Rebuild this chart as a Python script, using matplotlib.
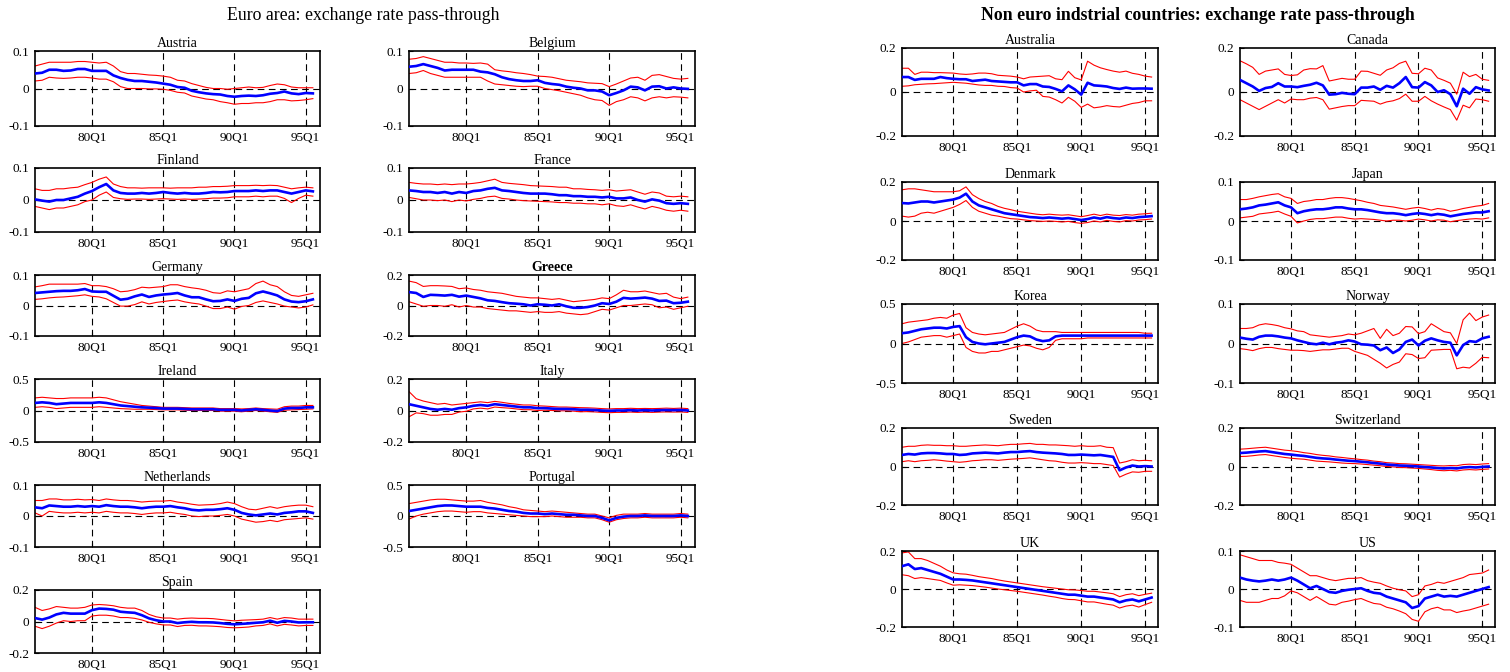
import numpy as np
import matplotlib
matplotlib.use("Agg")
import matplotlib.pyplot as plt

plt.rcParams["font.family"] = ["Liberation Serif", "DejaVu Serif"]
plt.rcParams["axes.unicode_minus"] = False

# half-yearly observations, 1976Q1 .. 1995Q3
years = 1976 + np.arange(40) / 2
tick_years = [1980, 1985, 1990, 1995]
tick_names = ["80Q1", "85Q1", "90Q1", "95Q1"]

# ---- euro area ----
austria_mid = [0.040, 0.042, 0.050, 0.050, 0.047, 0.048, 0.052, 0.052, 0.047, 0.047,
               0.047, 0.035, 0.028, 0.023, 0.020, 0.020, 0.018, 0.016, 0.013, 0.010,
               0.004, 0.002, -0.006, -0.010, -0.013, -0.015, -0.016, -0.020, -0.022, -0.020,
               -0.019, -0.020, -0.018, -0.014, -0.012, -0.008, -0.013, -0.015, -0.012, -0.013]
austria_up = [0.060, 0.065, 0.070, 0.070, 0.070, 0.070, 0.072, 0.072, 0.070, 0.068,
              0.070, 0.060, 0.045, 0.040, 0.040, 0.038, 0.036, 0.035, 0.033, 0.030,
              0.022, 0.020, 0.013, 0.008, 0.003, 0.000, 0.000, -0.002, 0.000, 0.002,
              0.004, 0.002, 0.003, 0.008, 0.012, 0.010, 0.004, 0.002, 0.002, 0.002]
austria_lo = [0.020, 0.022, 0.030, 0.028, 0.027, 0.028, 0.030, 0.030, 0.028, 0.025,
              0.025, 0.018, 0.005, 0.000, 0.000, 0.000, -0.001, -0.001, -0.002, -0.005,
              -0.010, -0.012, -0.020, -0.024, -0.028, -0.030, -0.035, -0.038, -0.042, -0.040,
              -0.040, -0.038, -0.038, -0.035, -0.030, -0.030, -0.033, -0.032, -0.030, -0.027]

belgium_mid = [0.058, 0.060, 0.065, 0.060, 0.055, 0.048, 0.050, 0.050, 0.050, 0.050,
               0.045, 0.043, 0.038, 0.030, 0.025, 0.022, 0.020, 0.020, 0.022, 0.015,
               0.012, 0.010, 0.005, 0.002, 0.000, -0.005, -0.005, -0.008, -0.018, -0.012,
               -0.005, 0.005, 0.003, -0.005, 0.005, 0.006, 0.000, 0.003, 0.000, -0.001]
belgium_up = [0.078, 0.080, 0.085, 0.080, 0.075, 0.070, 0.070, 0.068, 0.068, 0.067,
              0.068, 0.065, 0.050, 0.047, 0.045, 0.042, 0.040, 0.037, 0.033, 0.032,
              0.030, 0.026, 0.022, 0.020, 0.018, 0.015, 0.014, 0.013, 0.005, 0.012,
              0.020, 0.028, 0.030, 0.022, 0.035, 0.037, 0.032, 0.027, 0.025, 0.027]
belgium_lo = [0.040, 0.042, 0.048, 0.040, 0.035, 0.030, 0.030, 0.030, 0.030, 0.030,
              0.030, 0.020, 0.012, 0.010, 0.008, 0.006, 0.005, 0.006, 0.006, 0.000,
              -0.003, -0.006, -0.010, -0.014, -0.018, -0.025, -0.030, -0.032, -0.045, -0.035,
              -0.030, -0.022, -0.025, -0.033, -0.025, -0.022, -0.025, -0.022, -0.023, -0.025]

finland_mid = [0.002, -0.002, -0.005, 0.000, 0.000, 0.005, 0.010, 0.020, 0.028, 0.040,
               0.050, 0.030, 0.022, 0.020, 0.020, 0.022, 0.020, 0.022, 0.025, 0.022,
               0.020, 0.022, 0.020, 0.020, 0.022, 0.025, 0.024, 0.025, 0.028, 0.028,
               0.028, 0.030, 0.028, 0.030, 0.030, 0.025, 0.020, 0.025, 0.030, 0.027]
finland_up = [0.035, 0.030, 0.030, 0.035, 0.035, 0.038, 0.040, 0.048, 0.055, 0.065,
              0.072, 0.050, 0.042, 0.038, 0.038, 0.037, 0.038, 0.038, 0.038, 0.037,
              0.038, 0.038, 0.038, 0.040, 0.040, 0.042, 0.042, 0.043, 0.045, 0.045,
              0.045, 0.046, 0.045, 0.046, 0.045, 0.040, 0.035, 0.038, 0.040, 0.038]
finland_lo = [-0.020, -0.025, -0.030, -0.025, -0.025, -0.020, -0.015, -0.005, 0.000, 0.015,
              0.025, 0.008, 0.004, 0.002, 0.003, 0.003, 0.002, 0.003, 0.004, 0.003,
              0.002, 0.003, 0.002, 0.003, 0.004, 0.006, 0.006, 0.007, 0.010, 0.010,
              0.010, 0.012, 0.010, 0.012, 0.012, 0.005, -0.008, 0.005, 0.015, 0.012]

france_mid = [0.030, 0.028, 0.025, 0.025, 0.022, 0.025, 0.020, 0.025, 0.022, 0.028,
              0.030, 0.035, 0.038, 0.030, 0.028, 0.025, 0.022, 0.020, 0.020, 0.020,
              0.018, 0.015, 0.015, 0.012, 0.012, 0.010, 0.010, 0.008, 0.010, 0.005,
              0.005, 0.008, 0.000, -0.005, 0.002, -0.002, -0.010, -0.012, -0.010, -0.012]
france_up = [0.055, 0.052, 0.050, 0.050, 0.048, 0.050, 0.048, 0.050, 0.050, 0.052,
             0.055, 0.060, 0.065, 0.055, 0.052, 0.050, 0.048, 0.045, 0.044, 0.043,
             0.042, 0.040, 0.040, 0.035, 0.035, 0.033, 0.032, 0.030, 0.032, 0.028,
             0.030, 0.032, 0.025, 0.018, 0.025, 0.022, 0.012, 0.010, 0.012, 0.010]
france_lo = [0.008, 0.004, 0.000, 0.000, -0.002, 0.000, -0.005, 0.000, -0.003, 0.002,
             0.005, 0.010, 0.012, 0.005, 0.003, 0.000, -0.002, -0.003, -0.004, -0.005,
             -0.006, -0.008, -0.008, -0.010, -0.010, -0.012, -0.012, -0.015, -0.012, -0.018,
             -0.020, -0.015, -0.022, -0.028, -0.020, -0.025, -0.032, -0.035, -0.032, -0.035]

germany_mid = [0.041, 0.043, 0.045, 0.047, 0.048, 0.048, 0.050, 0.054, 0.046, 0.045,
               0.045, 0.032, 0.019, 0.022, 0.030, 0.036, 0.028, 0.033, 0.036, 0.038,
               0.041, 0.033, 0.027, 0.027, 0.020, 0.014, 0.015, 0.020, 0.015, 0.022,
               0.025, 0.040, 0.046, 0.040, 0.033, 0.020, 0.013, 0.011, 0.014, 0.020]
germany_up = [0.061, 0.065, 0.070, 0.070, 0.070, 0.070, 0.070, 0.072, 0.065, 0.065,
              0.062, 0.055, 0.045, 0.047, 0.052, 0.060, 0.058, 0.060, 0.062, 0.068,
              0.068, 0.062, 0.058, 0.055, 0.050, 0.042, 0.040, 0.048, 0.045, 0.050,
              0.055, 0.072, 0.080, 0.068, 0.062, 0.045, 0.033, 0.030, 0.035, 0.040]
germany_lo = [0.020, 0.022, 0.025, 0.027, 0.028, 0.030, 0.032, 0.035, 0.030, 0.028,
              0.022, 0.010, -0.002, -0.002, 0.003, 0.012, 0.005, 0.010, 0.013, 0.016,
              0.018, 0.012, 0.008, 0.005, -0.002, -0.010, -0.010, -0.005, -0.012, -0.003,
              0.000, 0.010, 0.015, 0.010, 0.005, -0.002, -0.005, -0.008, -0.005, 0.002]

greece_mid = [0.088, 0.082, 0.056, 0.070, 0.068, 0.065, 0.070, 0.058, 0.065, 0.056,
              0.047, 0.034, 0.030, 0.022, 0.015, 0.012, 0.008, 0.000, 0.008, 0.005,
              0.000, 0.008, -0.005, -0.015, -0.015, -0.010, 0.000, 0.015, 0.010, 0.025,
              0.050, 0.045, 0.048, 0.052, 0.045, 0.030, 0.032, 0.015, 0.018, 0.025]
greece_up = [0.160, 0.150, 0.125, 0.130, 0.130, 0.128, 0.125, 0.110, 0.115, 0.105,
             0.100, 0.090, 0.085, 0.080, 0.070, 0.060, 0.055, 0.050, 0.050, 0.045,
             0.040, 0.045, 0.035, 0.025, 0.030, 0.035, 0.040, 0.050, 0.045, 0.070,
             0.100, 0.090, 0.090, 0.095, 0.085, 0.075, 0.080, 0.055, 0.045, 0.055]
greece_lo = [0.025, 0.010, -0.005, 0.000, 0.000, -0.005, 0.005, -0.010, 0.000, -0.010,
             -0.010, -0.020, -0.025, -0.030, -0.035, -0.035, -0.040, -0.045, -0.040, -0.045,
             -0.045, -0.040, -0.050, -0.055, -0.060, -0.055, -0.040, -0.025, -0.030, -0.015,
             0.000, 0.000, 0.005, 0.010, 0.005, -0.015, -0.010, -0.025, -0.015, -0.005]

ireland_mid = [0.12, 0.13, 0.12, 0.10, 0.11, 0.12, 0.12, 0.12, 0.12, 0.13,
               0.12, 0.10, 0.08, 0.07, 0.06, 0.05, 0.045, 0.04, 0.03, 0.03,
               0.03, 0.025, 0.02, 0.02, 0.02, 0.02, 0.01, 0.01, 0.01, 0.0,
               0.01, 0.02, 0.01, 0.0, -0.01, 0.03, 0.04, 0.04, 0.05, 0.05]
ireland_up = [0.20, 0.21, 0.20, 0.19, 0.19, 0.20, 0.20, 0.20, 0.20, 0.21,
              0.20, 0.17, 0.14, 0.12, 0.10, 0.08, 0.07, 0.06, 0.05, 0.05,
              0.05, 0.045, 0.04, 0.04, 0.04, 0.04, 0.03, 0.03, 0.03, 0.025,
              0.03, 0.04, 0.03, 0.025, 0.02, 0.06, 0.07, 0.07, 0.08, 0.08]
ireland_lo = [0.05, 0.06, 0.05, 0.03, 0.04, 0.05, 0.05, 0.05, 0.05, 0.06,
              0.05, 0.04, 0.03, 0.025, 0.02, 0.02, 0.02, 0.015, 0.01, 0.01,
              0.01, 0.005, 0.0, 0.0, 0.0, 0.0, -0.01, -0.01, -0.01, -0.02,
              -0.01, 0.0, -0.01, -0.02, -0.03, 0.005, 0.01, 0.015, 0.02, 0.025]

italy_mid = [0.040, 0.030, 0.020, 0.010, 0.005, 0.010, 0.005, 0.015, 0.020, 0.030,
             0.035, 0.030, 0.040, 0.035, 0.030, 0.025, 0.020, 0.020, 0.015, 0.015,
             0.012, 0.010, 0.010, 0.008, 0.005, 0.005, 0.003, 0.000, -0.002, 0.000,
             0.000, 0.002, 0.000, 0.002, 0.000, 0.002, 0.003, 0.002, 0.003, 0.000]
italy_up = [0.120, 0.075, 0.060, 0.050, 0.040, 0.045, 0.035, 0.040, 0.045, 0.050,
            0.055, 0.050, 0.058, 0.052, 0.045, 0.040, 0.035, 0.035, 0.030, 0.028,
            0.025, 0.022, 0.022, 0.020, 0.018, 0.017, 0.015, 0.012, 0.010, 0.012,
            0.012, 0.014, 0.012, 0.013, 0.012, 0.013, 0.015, 0.013, 0.015, 0.012]
italy_lo = [-0.040, -0.015, -0.020, -0.030, -0.030, -0.025, -0.025, -0.010, -0.005, 0.010,
            0.015, 0.010, 0.022, 0.018, 0.015, 0.010, 0.005, 0.005, 0.000, 0.002,
            0.000, -0.002, -0.002, -0.004, -0.008, -0.007, -0.009, -0.012, -0.014, -0.012,
            -0.012, -0.010, -0.012, -0.010, -0.012, -0.010, -0.009, -0.010, -0.009, -0.012]

netherlands_mid = [0.028, 0.025, 0.034, 0.032, 0.030, 0.030, 0.032, 0.030, 0.032, 0.030,
                   0.035, 0.032, 0.030, 0.030, 0.028, 0.025, 0.028, 0.030, 0.030, 0.032,
                   0.028, 0.025, 0.020, 0.018, 0.020, 0.020, 0.022, 0.025, 0.020, 0.010,
                   0.005, 0.002, 0.005, 0.008, 0.005, 0.010, 0.012, 0.015, 0.015, 0.010]
netherlands_up = [0.050, 0.050, 0.055, 0.055, 0.052, 0.052, 0.054, 0.052, 0.053, 0.050,
                  0.055, 0.052, 0.050, 0.050, 0.048, 0.045, 0.047, 0.048, 0.048, 0.050,
                  0.045, 0.042, 0.038, 0.035, 0.036, 0.037, 0.040, 0.045, 0.040, 0.030,
                  0.022, 0.020, 0.025, 0.030, 0.025, 0.030, 0.033, 0.035, 0.035, 0.030]
netherlands_lo = [0.010, 0.000, 0.015, 0.012, 0.010, 0.010, 0.012, 0.010, 0.012, 0.010,
                  0.015, 0.012, 0.010, 0.010, 0.008, 0.005, 0.008, 0.010, 0.010, 0.012,
                  0.008, 0.005, 0.000, -0.002, 0.000, 0.000, 0.002, 0.005, 0.000, -0.010,
                  -0.015, -0.020, -0.018, -0.014, -0.018, -0.012, -0.010, -0.008, -0.006, -0.010]

portugal_mid = [0.08, 0.10, 0.12, 0.14, 0.16, 0.17, 0.17, 0.16, 0.15, 0.15,
                0.15, 0.13, 0.12, 0.10, 0.08, 0.07, 0.05, 0.04, 0.04, 0.03,
                0.04, 0.03, 0.02, 0.02, 0.01, 0.0, 0.0, -0.03, -0.07, -0.03,
                -0.01, 0.0, 0.0, 0.01, 0.0, 0.0, 0.0, 0.0, 0.01, 0.0]
portugal_up = [0.20, 0.22, 0.24, 0.26, 0.27, 0.27, 0.26, 0.25, 0.24, 0.24,
               0.25, 0.22, 0.20, 0.18, 0.15, 0.13, 0.10, 0.09, 0.08, 0.07,
               0.08, 0.07, 0.06, 0.05, 0.04, 0.03, 0.03, 0.0, -0.03, 0.01,
               0.03, 0.03, 0.03, 0.04, 0.03, 0.03, 0.03, 0.03, 0.04, 0.03]
portugal_lo = [-0.05, 0.0, 0.03, 0.05, 0.07, 0.08, 0.08, 0.07, 0.06, 0.07,
               0.07, 0.05, 0.04, 0.03, 0.02, 0.01, 0.0, -0.01, -0.01, -0.01,
               0.0, -0.01, -0.02, -0.02, -0.02, -0.03, -0.03, -0.06, -0.10, -0.06,
               -0.04, -0.03, -0.03, -0.02, -0.03, -0.03, -0.03, -0.03, -0.02, -0.03]

spain_mid = [0.022, 0.012, 0.025, 0.045, 0.055, 0.050, 0.050, 0.050, 0.072, 0.082,
             0.080, 0.075, 0.062, 0.058, 0.055, 0.040, 0.020, 0.008, 0.000, 0.000,
             -0.010, -0.005, -0.002, -0.005, -0.005, -0.006, -0.010, -0.015, -0.018, -0.015,
             -0.012, -0.008, -0.005, 0.005, -0.008, 0.004, 0.000, -0.006, -0.005, -0.005]
spain_up = [0.090, 0.070, 0.080, 0.095, 0.090, 0.085, 0.085, 0.090, 0.105, 0.108,
            0.105, 0.100, 0.090, 0.085, 0.085, 0.070, 0.045, 0.030, 0.022, 0.022,
            0.015, 0.020, 0.022, 0.020, 0.020, 0.018, 0.013, 0.008, 0.004, 0.008,
            0.010, 0.012, 0.015, 0.025, 0.015, 0.025, 0.022, 0.015, 0.015, 0.015]
spain_lo = [-0.030, -0.045, -0.030, -0.010, 0.005, 0.000, 0.005, 0.005, 0.035, 0.040,
            0.040, 0.035, 0.025, 0.025, 0.020, 0.010, -0.005, -0.015, -0.022, -0.022,
            -0.032, -0.025, -0.024, -0.028, -0.028, -0.030, -0.033, -0.038, -0.040, -0.038,
            -0.035, -0.028, -0.025, -0.015, -0.028, -0.018, -0.022, -0.028, -0.025, -0.025]

# ---- non euro industrial countries ----
australia_mid = [0.068, 0.068, 0.055, 0.060, 0.060, 0.060, 0.068, 0.063, 0.060, 0.058,
                 0.058, 0.050, 0.053, 0.056, 0.050, 0.048, 0.046, 0.044, 0.044, 0.030,
                 0.036, 0.036, 0.025, 0.023, 0.014, 0.003, 0.030, 0.012, -0.012, 0.042,
                 0.030, 0.028, 0.025, 0.018, 0.014, 0.020, 0.015, 0.016, 0.016, 0.015]
australia_up = [0.108, 0.108, 0.080, 0.090, 0.090, 0.088, 0.088, 0.087, 0.086, 0.082,
                0.080, 0.082, 0.086, 0.086, 0.083, 0.076, 0.074, 0.072, 0.068, 0.060,
                0.068, 0.070, 0.072, 0.074, 0.060, 0.056, 0.094, 0.065, 0.055, 0.140,
                0.122, 0.110, 0.102, 0.095, 0.090, 0.095, 0.085, 0.080, 0.072, 0.068]
australia_lo = [0.026, 0.028, 0.033, 0.035, 0.037, 0.038, 0.040, 0.042, 0.044, 0.042,
                0.040, 0.036, 0.032, 0.030, 0.030, 0.026, 0.025, 0.020, 0.018, 0.000,
                0.005, 0.008, -0.020, -0.023, -0.035, -0.050, -0.024, -0.042, -0.070, -0.055,
                -0.072, -0.068, -0.062, -0.066, -0.068, -0.060, -0.052, -0.048, -0.040, -0.040]

canada_mid = [0.055, 0.040, 0.025, 0.005, 0.018, 0.023, 0.040, 0.025, 0.025, 0.022,
              0.028, 0.033, 0.042, 0.030, -0.012, -0.010, -0.004, -0.008, -0.010, 0.020,
              0.020, 0.025, 0.010, 0.028, 0.020, 0.040, 0.068, 0.022, 0.020, 0.045,
              0.030, 0.000, 0.008, -0.010, -0.065, 0.015, -0.008, 0.022, 0.012, 0.007]
canada_up = [0.142, 0.128, 0.112, 0.080, 0.095, 0.100, 0.105, 0.080, 0.075, 0.078,
             0.100, 0.106, 0.105, 0.120, 0.050, 0.056, 0.062, 0.058, 0.058, 0.095,
             0.094, 0.085, 0.076, 0.100, 0.110, 0.130, 0.140, 0.085, 0.083, 0.108,
             0.100, 0.064, 0.053, 0.040, -0.010, 0.090, 0.070, 0.080, 0.058, 0.053]
canada_lo = [-0.035, -0.050, -0.065, -0.080, -0.065, -0.050, -0.035, -0.050, -0.032, -0.035,
             -0.035, -0.028, -0.025, -0.035, -0.078, -0.072, -0.066, -0.062, -0.062, -0.038,
             -0.040, -0.042, -0.055, -0.045, -0.040, -0.030, -0.010, -0.042, -0.042, -0.020,
             -0.040, -0.055, -0.068, -0.080, -0.128, -0.060, -0.072, -0.032, -0.035, -0.042]

denmark_mid = [0.092, 0.090, 0.095, 0.100, 0.100, 0.095, 0.100, 0.105, 0.110, 0.120,
               0.140, 0.100, 0.080, 0.070, 0.060, 0.050, 0.040, 0.035, 0.030, 0.025,
               0.020, 0.018, 0.015, 0.018, 0.015, 0.012, 0.015, 0.010, 0.005, 0.010,
               0.018, 0.012, 0.020, 0.015, 0.012, 0.018, 0.015, 0.020, 0.022, 0.025]
denmark_up = [0.160, 0.165, 0.165, 0.160, 0.155, 0.150, 0.150, 0.150, 0.150, 0.155,
              0.175, 0.135, 0.115, 0.100, 0.090, 0.075, 0.065, 0.058, 0.050, 0.045,
              0.040, 0.035, 0.032, 0.035, 0.032, 0.030, 0.032, 0.027, 0.022, 0.028,
              0.035, 0.028, 0.035, 0.030, 0.028, 0.033, 0.030, 0.035, 0.037, 0.040]
denmark_lo = [0.025, 0.020, 0.025, 0.040, 0.045, 0.040, 0.050, 0.060, 0.070, 0.085,
              0.105, 0.070, 0.050, 0.040, 0.030, 0.025, 0.018, 0.012, 0.010, 0.006,
              0.002, 0.000, -0.002, 0.000, -0.002, -0.005, -0.002, -0.008, -0.012, -0.008,
              0.000, -0.005, 0.003, -0.002, -0.005, 0.002, 0.000, 0.005, 0.007, 0.010]

japan_mid = [0.030, 0.032, 0.035, 0.040, 0.042, 0.045, 0.048, 0.040, 0.035, 0.020,
             0.025, 0.028, 0.030, 0.030, 0.032, 0.035, 0.035, 0.032, 0.030, 0.030,
             0.028, 0.025, 0.022, 0.020, 0.020, 0.018, 0.015, 0.018, 0.020, 0.018,
             0.015, 0.018, 0.016, 0.012, 0.015, 0.018, 0.020, 0.022, 0.022, 0.025]
japan_up = [0.055, 0.055, 0.058, 0.062, 0.065, 0.068, 0.070, 0.062, 0.058, 0.045,
            0.050, 0.052, 0.055, 0.055, 0.058, 0.060, 0.060, 0.058, 0.055, 0.052,
            0.048, 0.045, 0.040, 0.038, 0.036, 0.033, 0.030, 0.033, 0.035, 0.032,
            0.028, 0.032, 0.030, 0.025, 0.028, 0.032, 0.035, 0.038, 0.040, 0.045]
japan_lo = [0.008, 0.010, 0.012, 0.018, 0.020, 0.022, 0.025, 0.018, 0.012, -0.005,
            0.000, 0.004, 0.006, 0.006, 0.008, 0.010, 0.010, 0.007, 0.005, 0.006,
            0.005, 0.004, 0.002, 0.000, 0.002, 0.002, 0.000, 0.002, 0.005, 0.003,
            0.000, 0.003, 0.002, -0.002, 0.001, 0.003, 0.005, 0.006, 0.005, 0.008]

korea_mid = [0.13, 0.14, 0.16, 0.18, 0.19, 0.20, 0.20, 0.19, 0.21, 0.22,
             0.08, 0.02, 0.00, -0.01, 0.00, 0.01, 0.02, 0.05, 0.08, 0.10,
             0.09, 0.05, 0.03, 0.04, 0.09, 0.10, 0.10, 0.10, 0.10, 0.10,
             0.10, 0.10, 0.10, 0.10, 0.10, 0.10, 0.10, 0.10, 0.10, 0.10]
korea_up = [0.25, 0.27, 0.28, 0.29, 0.30, 0.32, 0.33, 0.32, 0.36, 0.38,
            0.20, 0.14, 0.12, 0.11, 0.12, 0.13, 0.14, 0.18, 0.22, 0.25,
            0.22, 0.17, 0.15, 0.15, 0.15, 0.14, 0.14, 0.14, 0.14, 0.14,
            0.14, 0.14, 0.14, 0.14, 0.14, 0.14, 0.14, 0.14, 0.13, 0.13]
korea_lo = [0.00, 0.02, 0.05, 0.08, 0.09, 0.10, 0.10, 0.08, 0.10, 0.12,
            -0.05, -0.10, -0.12, -0.12, -0.10, -0.10, -0.08, -0.06, -0.04, -0.02,
            -0.03, -0.06, -0.08, -0.05, 0.04, 0.06, 0.06, 0.06, 0.06, 0.07,
            0.07, 0.07, 0.07, 0.07, 0.07, 0.07, 0.07, 0.07, 0.07, 0.07]

norway_mid = [0.015, 0.012, 0.010, 0.017, 0.020, 0.020, 0.018, 0.015, 0.013, 0.008,
              0.004, 0.000, -0.002, 0.002, -0.002, 0.002, 0.004, 0.008, 0.005, -0.002,
              -0.003, -0.005, -0.017, -0.010, -0.024, -0.015, 0.004, 0.010, -0.005, 0.007,
              0.013, 0.008, 0.004, 0.002, -0.030, -0.004, 0.006, 0.004, 0.013, 0.017]
norway_up = [0.038, 0.038, 0.040, 0.047, 0.050, 0.048, 0.045, 0.040, 0.037, 0.032,
             0.030, 0.022, 0.020, 0.018, 0.016, 0.018, 0.020, 0.024, 0.022, 0.026,
             0.032, 0.038, 0.013, 0.036, 0.020, 0.026, 0.043, 0.042, 0.025, 0.030,
             0.050, 0.040, 0.030, 0.027, 0.000, 0.060, 0.077, 0.058, 0.067, 0.072]
norway_lo = [-0.013, -0.015, -0.018, -0.013, -0.010, -0.010, -0.013, -0.015, -0.017, -0.017,
             -0.018, -0.020, -0.018, -0.016, -0.016, -0.014, -0.012, -0.012, -0.020, -0.025,
             -0.030, -0.040, -0.050, -0.062, -0.053, -0.047, -0.026, -0.028, -0.038, -0.036,
             -0.017, -0.016, -0.015, -0.015, -0.064, -0.060, -0.062, -0.050, -0.035, -0.036]

sweden_mid = [0.060, 0.065, 0.062, 0.068, 0.070, 0.070, 0.068, 0.065, 0.065, 0.060,
              0.062, 0.068, 0.070, 0.072, 0.070, 0.068, 0.072, 0.075, 0.075, 0.078,
              0.080, 0.075, 0.072, 0.070, 0.068, 0.065, 0.060, 0.060, 0.062, 0.060,
              0.058, 0.060, 0.055, 0.050, -0.020, -0.005, 0.005, 0.000, 0.002, 0.000]
sweden_up = [0.100, 0.105, 0.105, 0.110, 0.112, 0.110, 0.110, 0.108, 0.108, 0.105,
             0.105, 0.108, 0.110, 0.112, 0.110, 0.108, 0.112, 0.115, 0.115, 0.118,
             0.120, 0.115, 0.115, 0.112, 0.112, 0.110, 0.108, 0.105, 0.108, 0.105,
             0.105, 0.108, 0.100, 0.098, 0.018, 0.025, 0.035, 0.030, 0.032, 0.030]
sweden_lo = [0.025, 0.030, 0.025, 0.030, 0.032, 0.035, 0.032, 0.028, 0.025, 0.022,
             0.025, 0.030, 0.032, 0.035, 0.035, 0.032, 0.035, 0.038, 0.040, 0.042,
             0.045, 0.040, 0.035, 0.030, 0.028, 0.022, 0.018, 0.018, 0.020, 0.018,
             0.015, 0.015, 0.010, 0.005, -0.055, -0.040, -0.028, -0.030, -0.025, -0.025]

switzerland_mid = [0.070, 0.072, 0.075, 0.078, 0.080, 0.075, 0.070, 0.065, 0.062, 0.058,
                   0.055, 0.050, 0.045, 0.042, 0.040, 0.036, 0.033, 0.030, 0.028, 0.025,
                   0.022, 0.018, 0.015, 0.010, 0.008, 0.005, 0.004, 0.002, 0.000, -0.003,
                   -0.005, -0.008, -0.010, -0.008, -0.010, -0.005, -0.003, -0.005, -0.002, 0.000]
switzerland_up = [0.090, 0.092, 0.095, 0.098, 0.100, 0.095, 0.090, 0.085, 0.082, 0.078,
                  0.072, 0.068, 0.062, 0.058, 0.055, 0.050, 0.047, 0.043, 0.040, 0.036,
                  0.033, 0.028, 0.025, 0.020, 0.018, 0.015, 0.014, 0.012, 0.010, 0.008,
                  0.006, 0.004, 0.003, 0.005, 0.004, 0.010, 0.012, 0.010, 0.013, 0.015]
switzerland_lo = [0.052, 0.053, 0.056, 0.060, 0.062, 0.057, 0.052, 0.047, 0.043, 0.040,
                  0.038, 0.033, 0.028, 0.026, 0.024, 0.021, 0.018, 0.016, 0.015, 0.013,
                  0.010, 0.007, 0.004, 0.000, -0.002, -0.005, -0.006, -0.008, -0.010, -0.013,
                  -0.016, -0.020, -0.022, -0.020, -0.023, -0.018, -0.016, -0.018, -0.015, -0.013]

uk_mid = [0.120, 0.130, 0.105, 0.110, 0.100, 0.090, 0.080, 0.065, 0.050, 0.050,
          0.048, 0.045, 0.040, 0.035, 0.030, 0.025, 0.020, 0.015, 0.010, 0.005,
          0.000, -0.005, -0.010, -0.015, -0.020, -0.025, -0.030, -0.030, -0.035, -0.040,
          -0.040, -0.045, -0.050, -0.055, -0.070, -0.060, -0.055, -0.065, -0.055, -0.045]
uk_up = [0.190, 0.195, 0.160, 0.160, 0.150, 0.135, 0.120, 0.100, 0.085, 0.080,
         0.078, 0.072, 0.065, 0.060, 0.055, 0.048, 0.042, 0.037, 0.032, 0.027,
         0.022, 0.017, 0.012, 0.008, 0.004, 0.000, -0.004, -0.005, -0.008, -0.012,
         -0.012, -0.016, -0.020, -0.025, -0.040, -0.030, -0.025, -0.035, -0.028, -0.022]
uk_lo = [0.075, 0.070, 0.055, 0.060, 0.055, 0.050, 0.045, 0.032, 0.020, 0.022,
         0.020, 0.018, 0.014, 0.010, 0.005, 0.000, -0.004, -0.008, -0.012, -0.017,
         -0.022, -0.027, -0.032, -0.038, -0.043, -0.050, -0.055, -0.056, -0.062, -0.068,
         -0.068, -0.074, -0.080, -0.085, -0.100, -0.090, -0.085, -0.095, -0.082, -0.070]

us_mid = [0.030, 0.025, 0.022, 0.020, 0.022, 0.025, 0.022, 0.025, 0.030, 0.022,
          0.012, 0.002, 0.008, 0.000, -0.008, -0.010, -0.005, -0.002, 0.000, 0.002,
          -0.005, -0.010, -0.012, -0.020, -0.025, -0.030, -0.035, -0.050, -0.045, -0.025,
          -0.020, -0.015, -0.020, -0.018, -0.020, -0.015, -0.010, -0.005, 0.000, 0.005]
us_up = [0.090, 0.085, 0.080, 0.075, 0.075, 0.075, 0.070, 0.068, 0.065, 0.055,
         0.045, 0.035, 0.035, 0.030, 0.025, 0.022, 0.025, 0.028, 0.028, 0.030,
         0.022, 0.018, 0.015, 0.008, 0.002, -0.002, -0.005, -0.020, -0.015, 0.008,
         0.012, 0.018, 0.015, 0.020, 0.025, 0.030, 0.038, 0.040, 0.042, 0.050]
us_lo = [-0.030, -0.035, -0.035, -0.035, -0.030, -0.025, -0.025, -0.018, -0.005, -0.010,
         -0.020, -0.030, -0.020, -0.030, -0.040, -0.042, -0.035, -0.032, -0.028, -0.025,
         -0.032, -0.038, -0.040, -0.048, -0.052, -0.058, -0.065, -0.080, -0.085, -0.060,
         -0.052, -0.048, -0.055, -0.055, -0.062, -0.058, -0.055, -0.050, -0.045, -0.040]

W, H = 1510, 672
DASH = (0, (6, 4))


def box(x0, x1, y0, y1):
    return [x0 / W, 1 - y1 / H, (x1 - x0) / W, (y1 - y0) / H]


def draw_panel(fig, pos, name, mid, up, lo, lim, bold=False):
    ax = fig.add_axes(pos)
    ax.axhline(0, color="k", lw=0.8, ls=DASH, zorder=1)
    for yr in tick_years:
        ax.axvline(yr, color="k", lw=0.8, ls=DASH, zorder=1)
    ax.plot(years, up, color="#ff0000", lw=0.8, zorder=2)
    ax.plot(years, lo, color="#ff0000", lw=0.8, zorder=2)
    ax.plot(years, mid, color="#0000ff", lw=1.9, zorder=3)
    ax.set_xlim(1976, 1996)
    ax.set_ylim(-lim, lim)
    ax.set_xticks(tick_years, tick_names)
    ax.set_yticks([-lim, 0, lim], [f"{v:g}" for v in (-lim, 0, lim)])
    ax.tick_params(direction="in", length=3, width=0.8, labelsize=9.5, pad=4)
    for sp in ax.spines.values():
        sp.set_linewidth(1.2)
    ax.set_title(name, fontsize=10, pad=3, fontweight="bold" if bold else "normal")
    return ax


fig = plt.figure(figsize=(W / 100, H / 100), dpi=100)

# left block: euro area
left_cols = [(35, 320), (409, 695)]
left_rows = [(51, 126), (168, 232), (275, 336), (379, 442), (485, 547), (590, 653)]
euro = [
    ("Austria", austria_mid, austria_up, austria_lo, 0.1),
    ("Belgium", belgium_mid, belgium_up, belgium_lo, 0.1),
    ("Finland", finland_mid, finland_up, finland_lo, 0.1),
    ("France", france_mid, france_up, france_lo, 0.1),
    ("Germany", germany_mid, germany_up, germany_lo, 0.1),
    ("Greece", greece_mid, greece_up, greece_lo, 0.2),
    ("Ireland", ireland_mid, ireland_up, ireland_lo, 0.5),
    ("Italy", italy_mid, italy_up, italy_lo, 0.2),
    ("Netherlands", netherlands_mid, netherlands_up, netherlands_lo, 0.1),
    ("Portugal", portugal_mid, portugal_up, portugal_lo, 0.5),
    ("Spain", spain_mid, spain_up, spain_lo, 0.2),
]
for i, (name, mid, up, lo, lim) in enumerate(euro):
    x0, x1 = left_cols[i % 2]
    y0, y1 = left_rows[i // 2]
    draw_panel(fig, box(x0, x1, y0, y1), name, mid, up, lo, lim, bold=(name == "Greece"))

# right block: non euro industrial countries
right_cols = [(902, 1158), (1240, 1495)]
right_rows = [(48, 136), (182, 260), (304, 383), (428, 505), (551, 627)]
others = [
    ("Australia", australia_mid, australia_up, australia_lo, 0.2),
    ("Canada", canada_mid, canada_up, canada_lo, 0.2),
    ("Denmark", denmark_mid, denmark_up, denmark_lo, 0.2),
    ("Japan", japan_mid, japan_up, japan_lo, 0.1),
    ("Korea", korea_mid, korea_up, korea_lo, 0.5),
    ("Norway", norway_mid, norway_up, norway_lo, 0.1),
    ("Sweden", sweden_mid, sweden_up, sweden_lo, 0.2),
    ("Switzerland", switzerland_mid, switzerland_up, switzerland_lo, 0.2),
    ("UK", uk_mid, uk_up, uk_lo, 0.2),
    ("US", us_mid, us_up, us_lo, 0.1),
]
for i, (name, mid, up, lo, lim) in enumerate(others):
    x0, x1 = right_cols[i % 2]
    y0, y1 = right_rows[i // 2]
    draw_panel(fig, box(x0, x1, y0, y1), name, mid, up, lo, lim)

fig.text(363 / W, 1 - 16 / H, "Euro area: exchange rate pass-through",
         ha="center", va="center", fontsize=12.8)
fig.text(1198 / W, 1 - 15 / H, "Non euro indstrial countries: exchange rate pass-through",
         ha="center", va="center", fontsize=12.8, fontweight="bold")

fig.savefig("out.png", dpi=100)
